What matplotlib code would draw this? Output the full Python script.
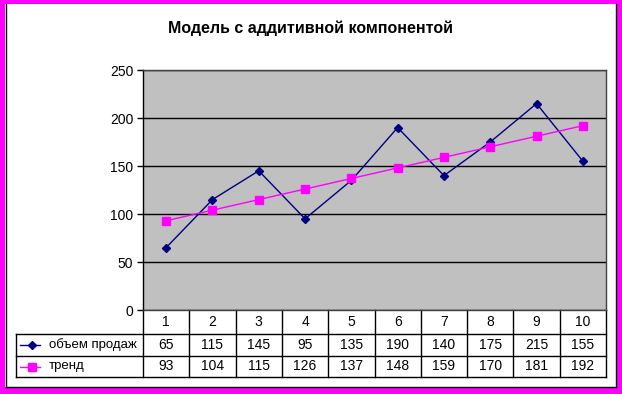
import matplotlib
matplotlib.use('Agg')
import matplotlib.pyplot as plt
from matplotlib.patches import Rectangle
from matplotlib.lines import Line2D
import matplotlib.transforms as mtransforms

categories = [1, 2, 3, 4, 5, 6, 7, 8, 9, 10]
sales = [65, 115, 145, 95, 135, 190, 140, 175, 215, 155]
trend = [93, 104, 115, 126, 137, 148, 159, 170, 181, 192]
series_names = ['объем продаж', 'тренд']
yticks = [0, 50, 100, 150, 200, 250]
title = 'Модель с аддитивной компонентой'

plt.rcParams['font.family'] = ['Liberation Sans', 'DejaVu Sans']

W, H = 622, 394
fig = plt.figure(figsize=(W / 100, H / 100), dpi=100, facecolor='#FF00FF')
fig.patches.append(Rectangle((5 / W, 1 - 387 / H), 611 / W, 383 / H,
                             transform=fig.transFigure, facecolor='white',
                             edgecolor='none', zorder=-2))
def fx(px):
    return px / W
def fy(py):
    return 1 - py / H
fig.lines.append(Line2D([fx(5.5), fx(5.5)], [fy(4), fy(386.5)], transform=fig.transFigure, color='black', lw=1, zorder=-1))
fig.lines.append(Line2D([fx(615.5), fx(615.5)], [fy(4), fy(386.5)], transform=fig.transFigure, color='black', lw=1, zorder=-1))
fig.lines.append(Line2D([fx(5.5), fx(615.5)], [fy(386.5), fy(386.5)], transform=fig.transFigure, color='black', lw=1, zorder=-1))

L, R, T, B = 143, 606, 70, 310
ax = fig.add_axes([L / W, 1 - B / H, (R - L) / W, (B - T) / H])
ax.set_facecolor('#C0C0C0')
ax.set_xlim(0.5, len(categories) + 0.5)
ax.set_ylim(yticks[0], yticks[-1])
ax.set_yticks(yticks)
ax.set_xticks([])
ax.yaxis.grid(True, color='black', lw=1)
ax.set_axisbelow(True)
for s in ax.spines.values():
    s.set_color('#404040')
    s.set_linewidth(1)
ax.spines['left'].set_color('black')
ax.tick_params(axis='y', direction='out', length=4, width=1, colors='black',
               labelsize=10, pad=3)

colors = ['#000080', '#FF00FF']
markers = ['D', 's']
msizes = [4.5, 5.5]
series = [sales, trend]
for vals, c, m, ms in zip(series, colors, markers, msizes):
    ax.plot(categories, vals, color=c, lw=1, marker=m, ms=ms, mec=c, mfc=c, zorder=3)

fig.text(fx(311), fy(28), title, ha='center', va='center', fontsize=11.5, fontweight='bold')

# data table
ph = B - T
def yax(px):
    return -(px - B) / ph
def xax(px):
    return (px - L) / (R - L)
y0, y1, y2, y3 = yax(310), yax(334), yax(356), yax(377)
xl = xax(16)
blend = mtransforms.blended_transform_factory(ax.transData, ax.transAxes)
kw = dict(color='black', lw=1, clip_on=False)
for i in range(len(categories) + 1):
    ax.add_line(Line2D([0.5 + i, 0.5 + i], [y0, y3], transform=blend, **kw))
for yy in (y1, y2, y3):
    ax.add_line(Line2D([xl, 1], [yy, yy], transform=ax.transAxes, **kw))
ax.add_line(Line2D([xl, xl], [y1, y3], transform=ax.transAxes, **kw))

for i, c in enumerate(categories):
    ax.text(c, (y0 + y1) / 2, str(c), transform=blend, ha='center', va='center', fontsize=10)
rows = [(y1, y2), (y2, y3)]
for (ya, yb), vals, name, c, m, ms in zip(rows, series, series_names, colors, markers, msizes):
    yc = (ya + yb) / 2
    for cat, v in zip(categories, vals):
        ax.text(cat, yc, str(v), transform=blend, ha='center', va='center', fontsize=10)
    ax.add_line(Line2D([xax(20), xax(40)], [yc, yc], transform=ax.transAxes, color=c, lw=1, clip_on=False))
    ax.add_line(Line2D([xax(32)], [yc], transform=ax.transAxes, color=c, marker=m, ms=ms,
                       mfc=c, mec=c, clip_on=False, lw=0))
    ax.text(xax(49), yc, name, transform=ax.transAxes, ha='left', va='center', fontsize=9.5)

fig.savefig('out.png', dpi=100, facecolor=fig.get_facecolor())
